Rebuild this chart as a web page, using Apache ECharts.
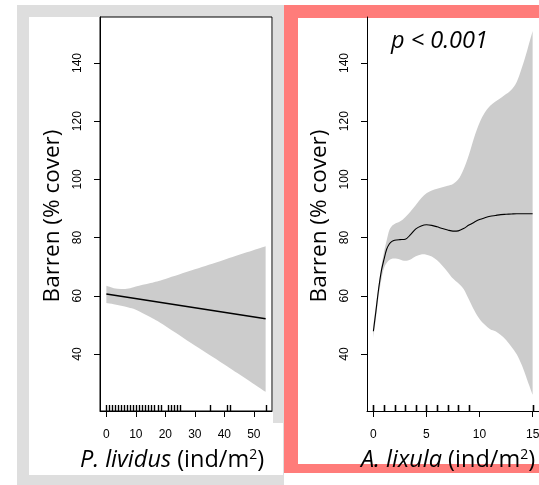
<!DOCTYPE html>
<html>
<head>
<meta charset="utf-8">
<script src="https://cdn.jsdelivr.net/npm/echarts@6/dist/echarts.min.js"></script>
<style>
  html, body { margin: 0; padding: 0; background: #fff; }
  #chart { width: 539px; height: 485px; }
</style>
</head>
<body>
<div id="chart"></div>
<script>
// ---- Panel 1: Barren cover vs P. lividus density ----
const livX     = [0, 2.5, 5, 7.5, 10, 15, 20, 30, 40, 54];
const livUpper = [63.4, 62.6, 62.3, 62.5, 63.2, 64.4, 65.8, 69.1, 72.4, 77.0];
const livLower = [57.5, 57.1, 56.6, 56.0, 55.2, 52.6, 49.6, 42.9, 36.4, 27.0];
const livFitX  = [0, 54];
const livFit   = [60.6, 52.1];
const livRug   = [0, 1, 2, 3, 4, 5, 6, 7, 8, 9, 10, 11, 12, 13, 14, 15, 16,
                  17.4, 18.5, 21, 22, 23, 24, 25, 35, 41, 42, 54];
const livTicks = [0, 10, 20, 30, 40, 50];

// ---- Panel 2: Barren cover vs A. lixula density ----
const lixX     = [0, 0.25, 0.5, 0.75, 1, 1.25, 1.5, 1.75, 2, 2.5, 3, 3.5, 4, 4.5, 5, 5.5, 6, 6.5, 7, 7.5,
                  8, 8.5, 9, 9.5, 10, 10.5, 11, 11.5, 12, 12.5, 13, 13.5, 14, 14.5, 15];
const lixFit   = [47.8, 55, 62.5, 68.5, 72.5, 76, 77.8, 78.7, 79.1, 79.3, 79.4, 81, 83, 84, 84.4, 84.2, 83.7, 83.1, 82.6, 82.2,
                  82.3, 83.1, 84.3, 85.3, 86.2, 86.8, 87.3, 87.6, 87.9, 88.0, 88.1, 88.2, 88.2, 88.2, 88.2];
const lixUpper = [50, 57, 64, 70, 75, 79, 82.5, 84, 84.7, 85.5, 87, 89, 91.2, 93.5, 95.2, 96.2, 96.8, 97.3, 97.8, 98.4,
                  100, 103.5, 108.5, 114.5, 119.5, 123, 125.3, 126.8, 128, 129.3, 130.8, 133.5, 138.5, 144.5, 151];
const lixLower = [45.5, 52.5, 60, 65.5, 69.5, 71.3, 72.3, 72.7, 72.8, 72.5, 72, 72.5, 73.6, 74.2, 74.1, 73.5, 72.2, 70.3, 68.2, 65.9,
                  64.3, 62.3, 58.7, 55, 52, 50, 48.5, 47.8, 46.5, 44.8, 42.5, 39.9, 36, 31, 26];
const lixRug   = [0, 1, 2, 3, 4, 5, 6, 7, 8, 9, 15];
const lixTicks = [0, 5, 10, 15];

// ---- Shared response axis ----
const yTicks = [40, 60, 80, 100, 120, 140];
const Y_MIN = 20.4, Y_MAX = 155.8;

const BAND = '#cccccc';
const TICK_FONT = 'Liberation Sans, Arial, sans-serif';
const TITLE_FONT = 'Open Sans, Noto Sans, sans-serif';

function pairs(xs, ys) { return xs.map((x, i) => [x, ys[i]]); }

function xAxisFor(idx, min, max, ticks) {
  return {
    type: 'value', gridIndex: idx, min: min, max: max,
    axisLine: { show: true, onZero: false, lineStyle: { color: '#000', width: 1 } },
    axisTick: { show: true, length: 6, customValues: ticks, lineStyle: { color: '#000', width: 1 } },
    axisLabel: { customValues: ticks, margin: 18, fontSize: 12, color: '#000', fontFamily: TICK_FONT },
    splitLine: { show: false }
  };
}
function yAxisFor(idx) {
  return {
    type: 'value', gridIndex: idx, min: Y_MIN, max: Y_MAX,
    axisLine: { show: true, onZero: false, lineStyle: { color: '#000', width: 1 } },
    axisTick: { show: true, length: 6, customValues: yTicks, lineStyle: { color: '#000', width: 1 } },
    axisLabel: { customValues: yTicks, rotate: 90, margin: 16, fontSize: 12, color: '#000', fontFamily: TICK_FONT },
    splitLine: { show: false }
  };
}

// rug marks along the bottom of a plot, one per observed density
function rugSeries(idx, vals, w) {
  return {
    type: 'custom', xAxisIndex: idx, yAxisIndex: idx, silent: true, z: 5,
    data: vals.map(v => [v, Y_MIN]),
    renderItem: function (params, api) {
      const p = api.coord([api.value(0), Y_MIN]);
      const x = Math.round(p[0]) + 0.5;
      return { type: 'line', shape: { x1: x, y1: p[1], x2: x, y2: p[1] - 6 },
               style: { stroke: '#000', lineWidth: w } };
    }
  };
}

// smooth (Catmull-Rom) path segment through screen points
function splineTo(pts, tension) {
  let d = '';
  for (let i = 0; i < pts.length - 1; i++) {
    const p0 = pts[Math.max(i - 1, 0)], p1 = pts[i], p2 = pts[i + 1], p3 = pts[Math.min(i + 2, pts.length - 1)];
    const c1 = [p1[0] + (p2[0] - p0[0]) * tension, p1[1] + (p2[1] - p0[1]) * tension];
    const c2 = [p2[0] - (p3[0] - p1[0]) * tension, p2[1] - (p3[1] - p1[1]) * tension];
    d += ' C' + c1[0] + ' ' + c1[1] + ' ' + c2[0] + ' ' + c2[1] + ' ' + p2[0] + ' ' + p2[1];
  }
  return d;
}

// confidence band drawn as one filled shape between the lower and upper limits
function bandSeries(idx, xs, up, lo) {
  return {
    type: 'custom', xAxisIndex: idx, yAxisIndex: idx, silent: true, z: 1,
    data: xs.map((x, i) => [x, lo[i], up[i]]),
    encode: { x: 0, y: [1, 2] },
    renderItem: function (params, api) {
      if (params.dataIndex !== 0) return null;
      const upPts = xs.map((x, i) => api.coord([x, up[i]]));
      const loPts = xs.map((x, i) => api.coord([x, lo[i]])).reverse();
      let d = 'M' + upPts[0][0] + ' ' + upPts[0][1] + splineTo(upPts, 1 / 6);
      d += ' L' + loPts[0][0] + ' ' + loPts[0][1] + splineTo(loPts, 1 / 6) + ' Z';
      return { type: 'path', shape: { pathData: d }, style: { fill: BAND, stroke: null } };
    }
  };
}

const chart = echarts.init(document.getElementById('chart'), null, { renderer: 'canvas' });

const xTitleRich = {
  i: { fontStyle: 'italic', fontSize: 23.5, fontFamily: TITLE_FONT, fill: '#000' },
  n: { fontSize: 23.5, fontFamily: TITLE_FONT, fill: '#000' },
  s: { fontSize: 14, fontFamily: TITLE_FONT, verticalAlign: 'top', fill: '#000' }
};

const option = {
  backgroundColor: '#ffffff',
  animation: false,
  graphic: [
    // left panel frame (grey) and its white inserts
    { type: 'rect', z: -10, shape: { x: 17, y: 5, width: 267, height: 480 }, style: { fill: '#dedede' } },
    { type: 'rect', z: -9, shape: { x: 29, y: 17, width: 244, height: 406 }, style: { fill: '#ffffff' } },
    { type: 'rect', z: -9, shape: { x: 29, y: 423, width: 254, height: 52 }, style: { fill: '#ffffff' } },
    // right panel frame (salmon) and white interior
    { type: 'rect', z: -10, shape: { x: 284, y: 5, width: 260, height: 468 }, style: { fill: '#ff7c7a' } },
    { type: 'rect', z: -9, shape: { x: 298, y: 18, width: 246, height: 446 }, style: { fill: '#ffffff' } },
    // y-axis titles
    { type: 'text', z: 10, x: 53, y: 216, rotation: Math.PI / 2,
      style: { text: 'Barren (% cover)', font: '22.5px ' + TITLE_FONT, fill: '#000', align: 'center', verticalAlign: 'middle' } },
    { type: 'text', z: 10, x: 320, y: 216, rotation: Math.PI / 2,
      style: { text: 'Barren (% cover)', font: '22.5px ' + TITLE_FONT, fill: '#000', align: 'center', verticalAlign: 'middle' } },
    // x-axis titles
    { type: 'text', z: 10, x: 172, y: 460,
      style: { text: '{i|P. lividus}{n| (ind/m}{s|2}{n|)}', align: 'center', verticalAlign: 'middle',
               font: '23.5px ' + TITLE_FONT, fill: '#000', rich: xTitleRich } },
    { type: 'text', z: 10, x: 448, y: 460,
      style: { text: '{i|A. lixula}{n| (ind/m}{s|2}{n|)}', align: 'center', verticalAlign: 'middle',
               font: '23.5px ' + TITLE_FONT, fill: '#000', rich: xTitleRich } },
    // significance note
    { type: 'text', z: 10, x: 391, y: 41,
      style: { text: 'p < 0.001', font: 'italic 23.5px ' + TITLE_FONT, fill: '#000', align: 'left', verticalAlign: 'middle' } }
  ],
  grid: [
    { left: 100, top: 17, width: 172, height: 394, show: true, borderColor: '#000', borderWidth: 1,
      backgroundColor: 'transparent', containLabel: false, outerBoundsMode: 'none' },
    { left: 367, top: 17, width: 172, height: 394, show: false, containLabel: false, outerBoundsMode: 'none' }
  ],
  xAxis: [
    xAxisFor(0, -2.16, 56.16, livTicks),
    xAxisFor(1, -0.6, 15.6, lixTicks)
  ],
  yAxis: [yAxisFor(0), yAxisFor(1)],
  series: [
    bandSeries(0, livX, livUpper, livLower),
    { type: 'line', xAxisIndex: 0, yAxisIndex: 0, data: pairs(livFitX, livFit), symbol: 'none',
      lineStyle: { color: '#000', width: 1.4 }, z: 3, silent: true },
    rugSeries(0, livRug, 1.4),
    bandSeries(1, lixX, lixUpper, lixLower),
    { type: 'line', xAxisIndex: 1, yAxisIndex: 1, data: pairs(lixX, lixFit), symbol: 'none', smooth: 0.3,
      lineStyle: { color: '#000', width: 1.1 }, z: 3, silent: true },
    rugSeries(1, lixRug, 1.6)
  ]
};

chart.setOption(option);
</script>
</body>
</html>
